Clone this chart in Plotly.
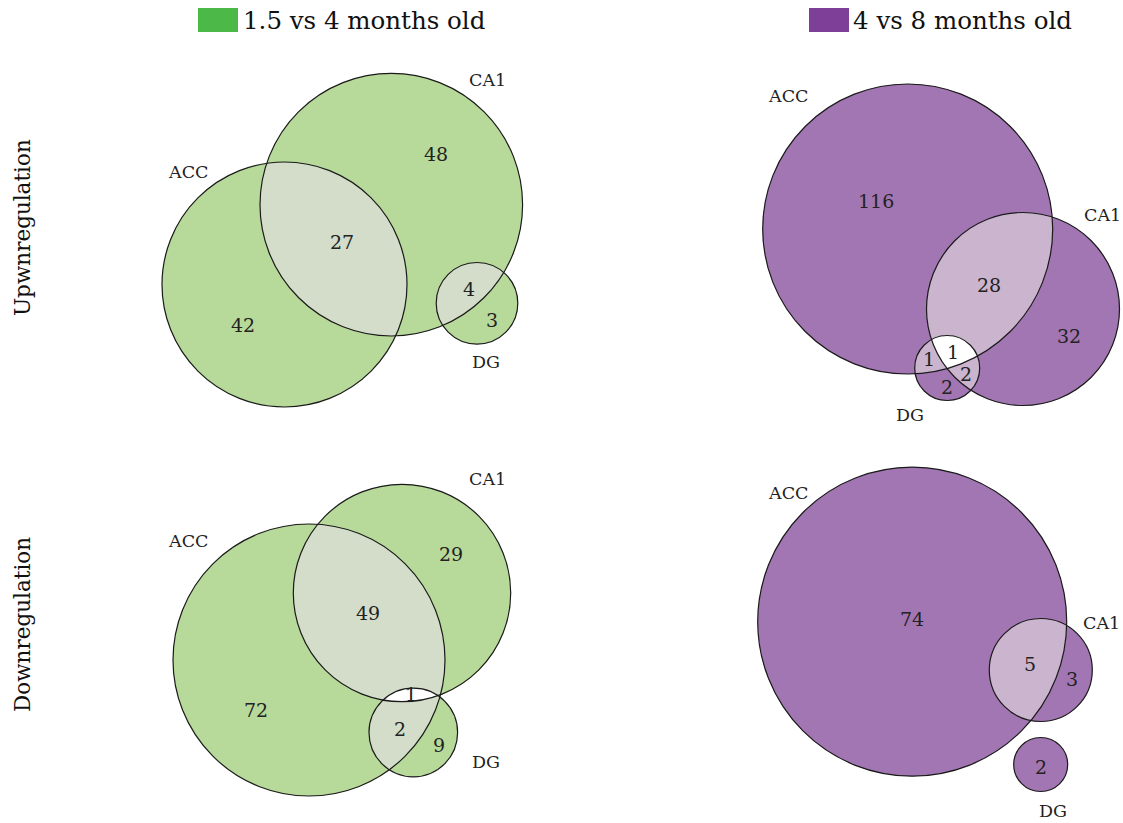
import numpy as np
import plotly.graph_objects as go

# ---------------- data ----------------
set_names = ["ACC", "CA1", "DG"]
comparisons = ["1.5 vs 4 months old", "4 vs 8 months old"]
directions = ["Upwnregulation", "Downregulation"]

# region counts keyed by membership string (ACC, CA1, DG)
up_15_4 = {"100": 42, "010": 48, "110": 27, "011": 4, "001": 3}
up_4_8 = {"100": 116, "010": 32, "110": 28, "101": 1, "111": 1, "011": 2, "001": 2}
down_15_4 = {"100": 72, "010": 29, "110": 49, "111": 1, "101": 2, "001": 9}
down_4_8 = {"100": 74, "010": 3, "110": 5, "001": 2}

# ---------------- layout / geometry (pixel space) ----------------
W, H = 1123, 823
FONT = "DejaVu Serif"
GREEN = dict(key="#4cb848", base="#b7da9a", pair="#d3ddca", triple="#ffffff")
PURPLE = dict(key="#7d3f98", base="#a276b2", pair="#cab4ce", triple="#ffffff")

panels = [
    dict(counts=up_15_4, pal=GREEN,
         circles=[(284.5, 284.5, 122.5), (391.3, 204.7, 131.3), (477.0, 303.3, 40.8)],
         labels=[(188, 172), (487, 80), (486, 362)],
         numpos={"100": (243, 325), "010": (436, 154), "110": (342, 242),
                 "011": (469, 289), "001": (492, 320)}),
    dict(counts=up_4_8, pal=PURPLE,
         circles=[(907.7, 229.0, 145.0), (1023.0, 309.0, 96.5), (947.2, 368.0, 32.5)],
         labels=[(788, 96), (1102, 215), (910, 415)],
         numpos={"100": (876, 201), "010": (1069, 336), "110": (989, 285),
                 "101": (929, 359), "111": (953, 352), "011": (966, 374), "001": (947, 387)}),
    dict(counts=down_15_4, pal=GREEN,
         circles=[(309.0, 660.0, 136.0), (402.0, 593.0, 108.7), (413.3, 732.5, 44.3)],
         labels=[(188, 541), (487, 479), (486, 762)],
         numpos={"100": (256, 710), "010": (451, 554), "110": (368, 613),
                 "111": (411, 694), "101": (400, 729), "001": (439, 745)}),
    dict(counts=down_4_8, pal=PURPLE,
         circles=[(912.2, 621.7, 154.5), (1040.8, 670.0, 51.5), (1040.7, 764.5, 27.0)],
         labels=[(788, 493), (1101, 623), (1053, 811)],
         numpos={"100": (912, 619), "010": (1072, 679), "110": (1030, 664), "001": (1041, 767)}),
]


def circle_poly(cx, cy, r, n=360):
    t = np.linspace(0, 2 * np.pi, n, endpoint=False)
    return list(zip(cx + r * np.cos(t), cy + r * np.sin(t)))


def clip(subject, clipper):
    # Sutherland-Hodgman for convex clipper
    def area(p):
        return sum(p[i][0] * p[(i + 1) % len(p)][1] - p[(i + 1) % len(p)][0] * p[i][1] for i in range(len(p)))
    sgn = 1 if area(clipper) > 0 else -1

    def inside(p, a, b):
        return sgn * ((b[0] - a[0]) * (p[1] - a[1]) - (b[1] - a[1]) * (p[0] - a[0])) >= 0

    def inter(p, q, a, b):
        x1, y1 = p; x2, y2 = q; x3, y3 = a; x4, y4 = b
        d = (x1 - x2) * (y3 - y4) - (y1 - y2) * (x3 - x4)
        t = ((x1 - x3) * (y3 - y4) - (y1 - y3) * (x3 - x4)) / d
        return (x1 + t * (x2 - x1), y1 + t * (y2 - y1))

    out = subject
    for i in range(len(clipper)):
        a, b = clipper[i], clipper[(i + 1) % len(clipper)]
        inp = out
        out = []
        if not inp:
            break
        s = inp[-1]
        for e in inp:
            if inside(e, a, b):
                if not inside(s, a, b):
                    out.append(inter(s, e, a, b))
                out.append(e)
            elif inside(s, a, b):
                out.append(inter(s, e, a, b))
            s = e
    return out


def path_of(poly):
    return "M " + " L ".join(f"{x:.2f},{y:.2f}" for x, y in poly) + " Z"


fig = go.Figure()
shapes = []
annotations = []

for pn in panels:
    polys = [circle_poly(*c) for c in pn["circles"]]
    pal = pn["pal"]
    for p in polys:
        shapes.append(dict(type="path", path=path_of(p), xref="x", yref="y",
                           fillcolor=pal["base"], line=dict(width=0), layer="below"))
    for i, j in [(0, 1), (0, 2), (1, 2)]:
        q = clip(polys[i], polys[j])
        if len(q) > 2:
            shapes.append(dict(type="path", path=path_of(q), xref="x", yref="y",
                               fillcolor=pal["pair"], line=dict(width=0), layer="below"))
    q = clip(clip(polys[0], polys[1]), polys[2])
    if len(q) > 2:
        shapes.append(dict(type="path", path=path_of(q), xref="x", yref="y",
                           fillcolor=pal["triple"], line=dict(width=0), layer="below"))
    for (cx, cy, r) in pn["circles"]:
        shapes.append(dict(type="circle", xref="x", yref="y", x0=cx - r, x1=cx + r,
                           y0=cy - r, y1=cy + r, line=dict(color="#1a1a1a", width=1.2),
                           fillcolor="rgba(0,0,0,0)", layer="below"))
    for name, (lx, ly) in zip(set_names, pn["labels"]):
        annotations.append(dict(x=lx, y=ly, xref="x", yref="y", text=name, showarrow=False,
                                font=dict(family=FONT, size=17.5, color="#222222")))
    for key, val in pn["counts"].items():
        x, y = pn["numpos"][key]
        annotations.append(dict(x=x, y=y, xref="x", yref="y", text=str(val), showarrow=False,
                                font=dict(family=FONT, size=19, color="#222222")))

# legend keys
for (sx, tx), comp, pal in zip([(198, 241), (809, 851)], comparisons, [GREEN, PURPLE]):
    shapes.append(dict(type="rect", xref="x", yref="y", x0=sx, x1=sx + 40, y0=8, y1=32,
                       fillcolor=pal["key"], line=dict(width=0)))
    annotations.append(dict(x=tx, y=20, xref="x", yref="y", text=comp, showarrow=False,
                            xanchor="left", font=dict(family=FONT, size=24.5, color="#111111")))

for d, y in zip(directions, [228, 625]):
    annotations.append(dict(x=22, y=y, xref="x", yref="y", text=d, showarrow=False, textangle=-90,
                            font=dict(family=FONT, size=21.5, color="#111111")))

fig.add_trace(go.Scatter(x=[0, W], y=[0, H], mode="markers", marker=dict(opacity=0),
                         hoverinfo="skip", showlegend=False))

fig.update_layout(
    width=W, height=H, margin=dict(l=0, r=0, t=0, b=0),
    paper_bgcolor="white", plot_bgcolor="white",
    xaxis=dict(range=[0, W], visible=False, fixedrange=True),
    yaxis=dict(range=[H, 0], visible=False, fixedrange=True),
    shapes=shapes, annotations=annotations, showlegend=False,
)

fig.write_html("out.html")
